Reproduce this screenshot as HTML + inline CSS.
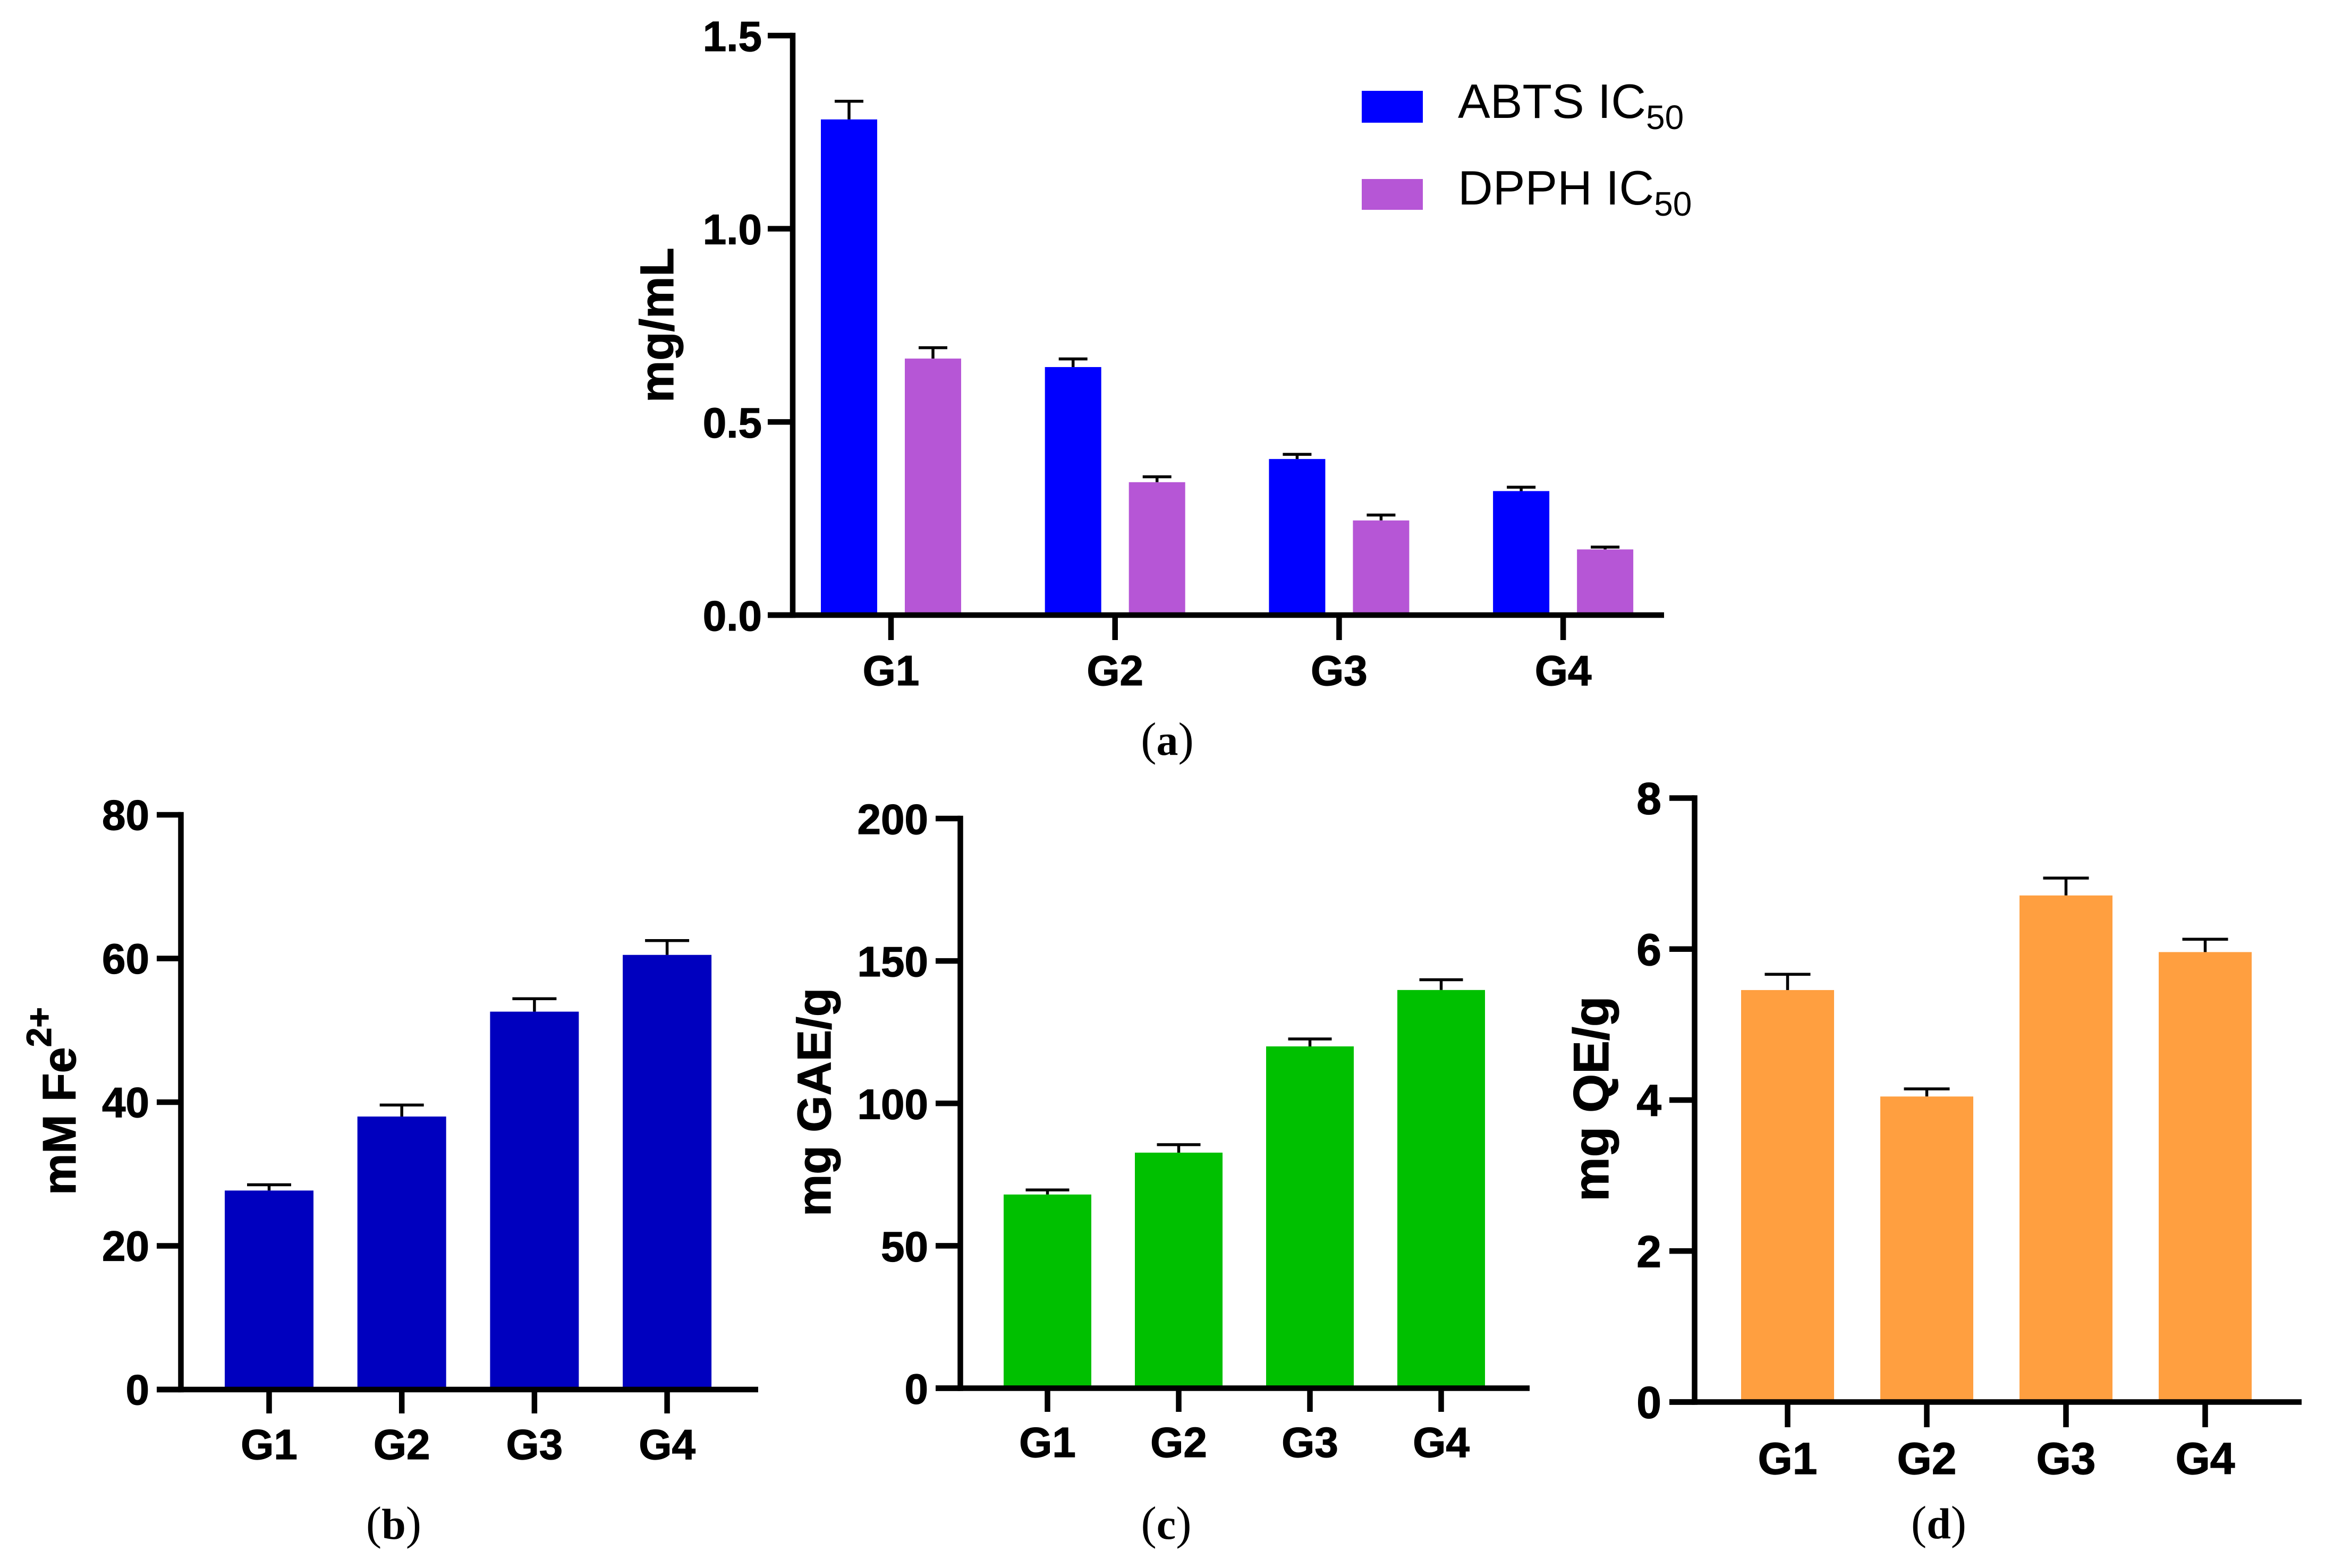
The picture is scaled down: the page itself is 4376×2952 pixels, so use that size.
<!DOCTYPE html>
<html lang="en">
<head>
<meta charset="utf-8">
<title>Antioxidant activity bar charts</title>
<style>
html,body{margin:0;padding:0;background:#fff;}
svg{display:block;}
text{fill:#000;font-family:"Liberation Sans",Arial,sans-serif;}
.title{font-weight:700;stroke:#000;stroke-width:1.2px;}
.cap{font-family:"Liberation Serif","Times New Roman",serif;font-size:88px;fill:#000;}
.cap tspan{font-weight:700;font-size:82px;}
.leg{font-size:91px;}
</style>
</head>
<body>
<svg id="figure" xmlns="http://www.w3.org/2000/svg" width="4376" height="2952" viewBox="0 0 4376 2952">
  <rect x="0" y="0" width="4376" height="2952" fill="#ffffff"/>
  <g id="panels"></g>

  <text class="title" font-size="89" transform="translate(1267,758) rotate(-90)">mg/mL</text>
  <text class="title" font-size="88" transform="translate(142,2250) rotate(-90)">mM Fe<tspan dy="-46" font-size="66">2+</tspan></text>
  <text class="title" font-size="89" transform="translate(1563,2290) rotate(-90)">mg GAE/g</text>
  <text class="title" font-size="94" transform="translate(3027,2262) rotate(-90)">mg QE/g</text>

  <g>
    <rect x="2563" y="171" width="115" height="60" fill="#0000ff"/>
    <text class="leg" x="2744" y="222">ABTS IC<tspan dy="21" font-size="64">50</tspan></text>
    <rect x="2563" y="337" width="115" height="58" fill="#b656d6"/>
    <text class="leg" x="2744" y="385">DPPH IC<tspan dy="21" font-size="64">50</tspan></text>
  </g>

  <text class="cap" x="2197" y="1421" text-anchor="middle">(<tspan>a</tspan>)</text>
  <text class="cap" x="741" y="2897" text-anchor="middle">(<tspan>b</tspan>)</text>
  <text class="cap" x="2195" y="2897" text-anchor="middle">(<tspan>c</tspan>)</text>
  <text class="cap" x="3649" y="2896" text-anchor="middle">(<tspan>d</tspan>)</text>
</svg>

<script>
// ---- data ----
const categories = ['G1', 'G2', 'G3', 'G4'];

const abtsValues = [1.283, 0.642, 0.404, 0.321];
const abtsErrors = [0.047, 0.021, 0.012, 0.01];
const dpphValues = [0.664, 0.344, 0.245, 0.17];
const dpphErrors = [0.028, 0.014, 0.014, 0.006];
const panelATicks = [0, 0.5, 1.0, 1.5];
const panelATickLabels = ['0.0', '0.5', '1.0', '1.5'];

const frapValues = [27.7, 38.0, 52.6, 60.5];
const frapErrors = [0.8, 1.6, 1.8, 2.0];
const panelBTicks = [0, 20, 40, 60, 80];
const panelBTickLabels = ['0', '20', '40', '60', '80'];

const gaeValues = [68, 82.7, 120, 139.8];
const gaeErrors = [1.6, 2.8, 2.6, 3.6];
const panelCTicks = [0, 50, 100, 150, 200];
const panelCTickLabels = ['0', '50', '100', '150', '200'];

const qeValues = [5.457, 4.047, 6.71, 5.96];
const qeErrors = [0.209, 0.101, 0.23, 0.17];
const panelDTicks = [0, 2, 4, 6, 8];
const panelDTickLabels = ['0', '2', '4', '6', '8'];

// ---- layout of each panel ----
const panels = [
  { id: 'a', axisX: 1492, xEnd: 3132, tickLeft: 1445, yTop: 67, yBase: 1158, yMax: 1.5,
    ticks: panelATicks, labels: panelATickLabels,
    first: 1677, step: 421.7, barW: 106, capW: 54, tickBottom: 1205,
    labelRight: 1434, labelDy: 29, catBaseline: 1290, font: 80,
    series: [
      { name: 'abts', values: abtsValues, errors: abtsErrors, color: '#0000ff', offset: -79 },
      { name: 'dpph', values: dpphValues, errors: dpphErrors, color: '#b656d6', offset: 79 }
    ] },
  { id: 'b', axisX: 340.5, xEnd: 1427, tickLeft: 295, yTop: 1534, yBase: 2616, yMax: 80,
    ticks: panelBTicks, labels: panelBTickLabels,
    first: 506.5, step: 249.7, barW: 167, capW: 83, tickBottom: 2661,
    labelRight: 281, labelDy: 28, catBaseline: 2747, font: 80,
    series: [{ name: 'frap', values: frapValues, errors: frapErrors, color: '#0000bf', offset: 0 }] },
  { id: 'c', axisX: 1807.5, xEnd: 2879, tickLeft: 1761, yTop: 1541, yBase: 2613.5, yMax: 200,
    ticks: panelCTicks, labels: panelCTickLabels,
    first: 1971.5, step: 247, barW: 165, capW: 82, tickBottom: 2658,
    labelRight: 1747, labelDy: 29, catBaseline: 2743, font: 80,
    series: [{ name: 'gae', values: gaeValues, errors: gaeErrors, color: '#00c000', offset: 0 }] },
  { id: 'd', axisX: 3189.5, xEnd: 4332, tickLeft: 3142, yTop: 1502.5, yBase: 2639.5, yMax: 8,
    ticks: panelDTicks, labels: panelDTickLabels,
    first: 3364.5, step: 262, barW: 175, capW: 86, tickBottom: 2687,
    labelRight: 3127, labelDy: 30, catBaseline: 2775, font: 84,
    series: [{ name: 'qe', values: qeValues, errors: qeErrors, color: '#ff9f40', offset: 0 }] }
];

const SVGNS = 'http://www.w3.org/2000/svg';
const root = document.getElementById('panels');

function make(tag, attrs, parent) {
  const el = document.createElementNS(SVGNS, tag);
  for (const k in attrs) el.setAttribute(k, attrs[k]);
  parent.appendChild(el);
  return el;
}

function drawPanel(p) {
  const yScale = v => p.yBase - (v / p.yMax) * (p.yBase - p.yTop);
  const xCenter = i => p.first + p.step * i;
  const AXIS = 10.5, ERR = 5.5;

  const g = make('g', {}, root);
  
  

  // bars and error bars
  p.series.forEach(s => {
    categories.forEach((cat, i) => {
      const cx = xCenter(i) + s.offset;
      const top = yScale(s.values[i]);
      const errTop = yScale(s.values[i] + s.errors[i]);

      const stem = make('line', { x1: cx, x2: cx, y1: errTop, y2: top, stroke: '#000', 'stroke-width': ERR }, g);
      
      

      const cap = make('line', { x1: cx - p.capW / 2, x2: cx + p.capW / 2, y1: errTop, y2: errTop, stroke: '#000', 'stroke-width': ERR }, g);
      
      

      const bar = make('rect', { x: cx - p.barW / 2, y: top, width: p.barW, height: p.yBase - top, fill: s.color }, g);
      
      
    });
  });

  // y axis, ticks and tick labels
  const yAxis = make('line', { x1: p.axisX, x2: p.axisX, y1: p.yTop - AXIS / 2, y2: p.yBase + AXIS / 2, stroke: '#000', 'stroke-width': AXIS }, g);
  
  

  p.ticks.forEach((t, i) => {
    const y = yScale(t);
    const tick = make('line', { x1: p.tickLeft, x2: p.axisX, y1: y, y2: y, stroke: '#000', 'stroke-width': AXIS }, g);
    
    

    const label = make('text', { x: p.labelRight, y: y + p.labelDy, 'text-anchor': 'end', 'font-size': p.font, 'font-weight': 700, stroke: '#000', 'stroke-width': 1.2 }, g);
    
    
    label.textContent = p.labels[i];
  });

  // x axis, ticks and category labels
  const xAxis = make('line', { x1: p.tickLeft, x2: p.xEnd, y1: p.yBase, y2: p.yBase, stroke: '#000', 'stroke-width': AXIS }, g);
  
  

  categories.forEach((cat, i) => {
    const cx = xCenter(i);
    const tick = make('line', { x1: cx, x2: cx, y1: p.yBase, y2: p.tickBottom, stroke: '#000', 'stroke-width': AXIS }, g);
    
    

    const label = make('text', { x: cx, y: p.catBaseline, 'text-anchor': 'middle', 'font-size': p.font, 'font-weight': 700, stroke: '#000', 'stroke-width': 1.2 }, g);
    
    
    label.textContent = cat;
  });
}

panels.forEach(drawPanel);
</script>
</body>
</html>
